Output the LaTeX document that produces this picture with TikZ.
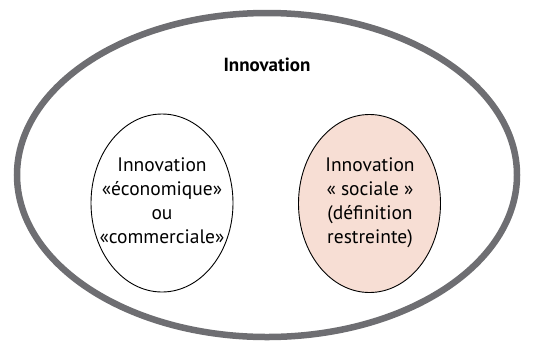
\documentclass[tikz,border=0pt]{standalone}
\usepackage{fontspec}
\setmainfont{PT Sans}
\usetikzlibrary{shapes.geometric}
\definecolor{cadre}{RGB}{110,110,114}
\definecolor{rose}{RGB}{247,222,212}

\begin{document}
\begin{tikzpicture}[x=1pt,y=1pt,yscale=-1,
  bulle/.style={ellipse, draw=black, line width=0.9pt, minimum width=142pt, minimum height=178pt, inner sep=0pt},
  texte/.style={align=center, inner sep=0pt, font=\fontsize{19.5}{24}\selectfont}]
\useasboundingbox (0,0) rectangle (543,341);

%Ellipse [id:innov] 
\node [ellipse, draw=cadre, line width=6.5pt, minimum width=500pt, minimum height=324pt] (innov) at (267,175) {};
%Ellipse [id:eco] 
\node [bulle] (eco) at (162,203) {};
%Ellipse [id:soc] 
\node [bulle, fill=rose] (soc) at (369.5,203.5) {};

% Text Node
\node [font=\bfseries\fontsize{19}{22}\selectfont] (titre) at (267,65) {Innovation};
% Text Node
\node [texte] (txteco) at (162,201) {Innovation\\«économique»\\ou\\«commerciale»};
% Text Node
\node [texte] (txtsoc) at (370,203) {Innovation\\« sociale »\\(définition\\restreinte)};

\end{tikzpicture}
\end{document}
